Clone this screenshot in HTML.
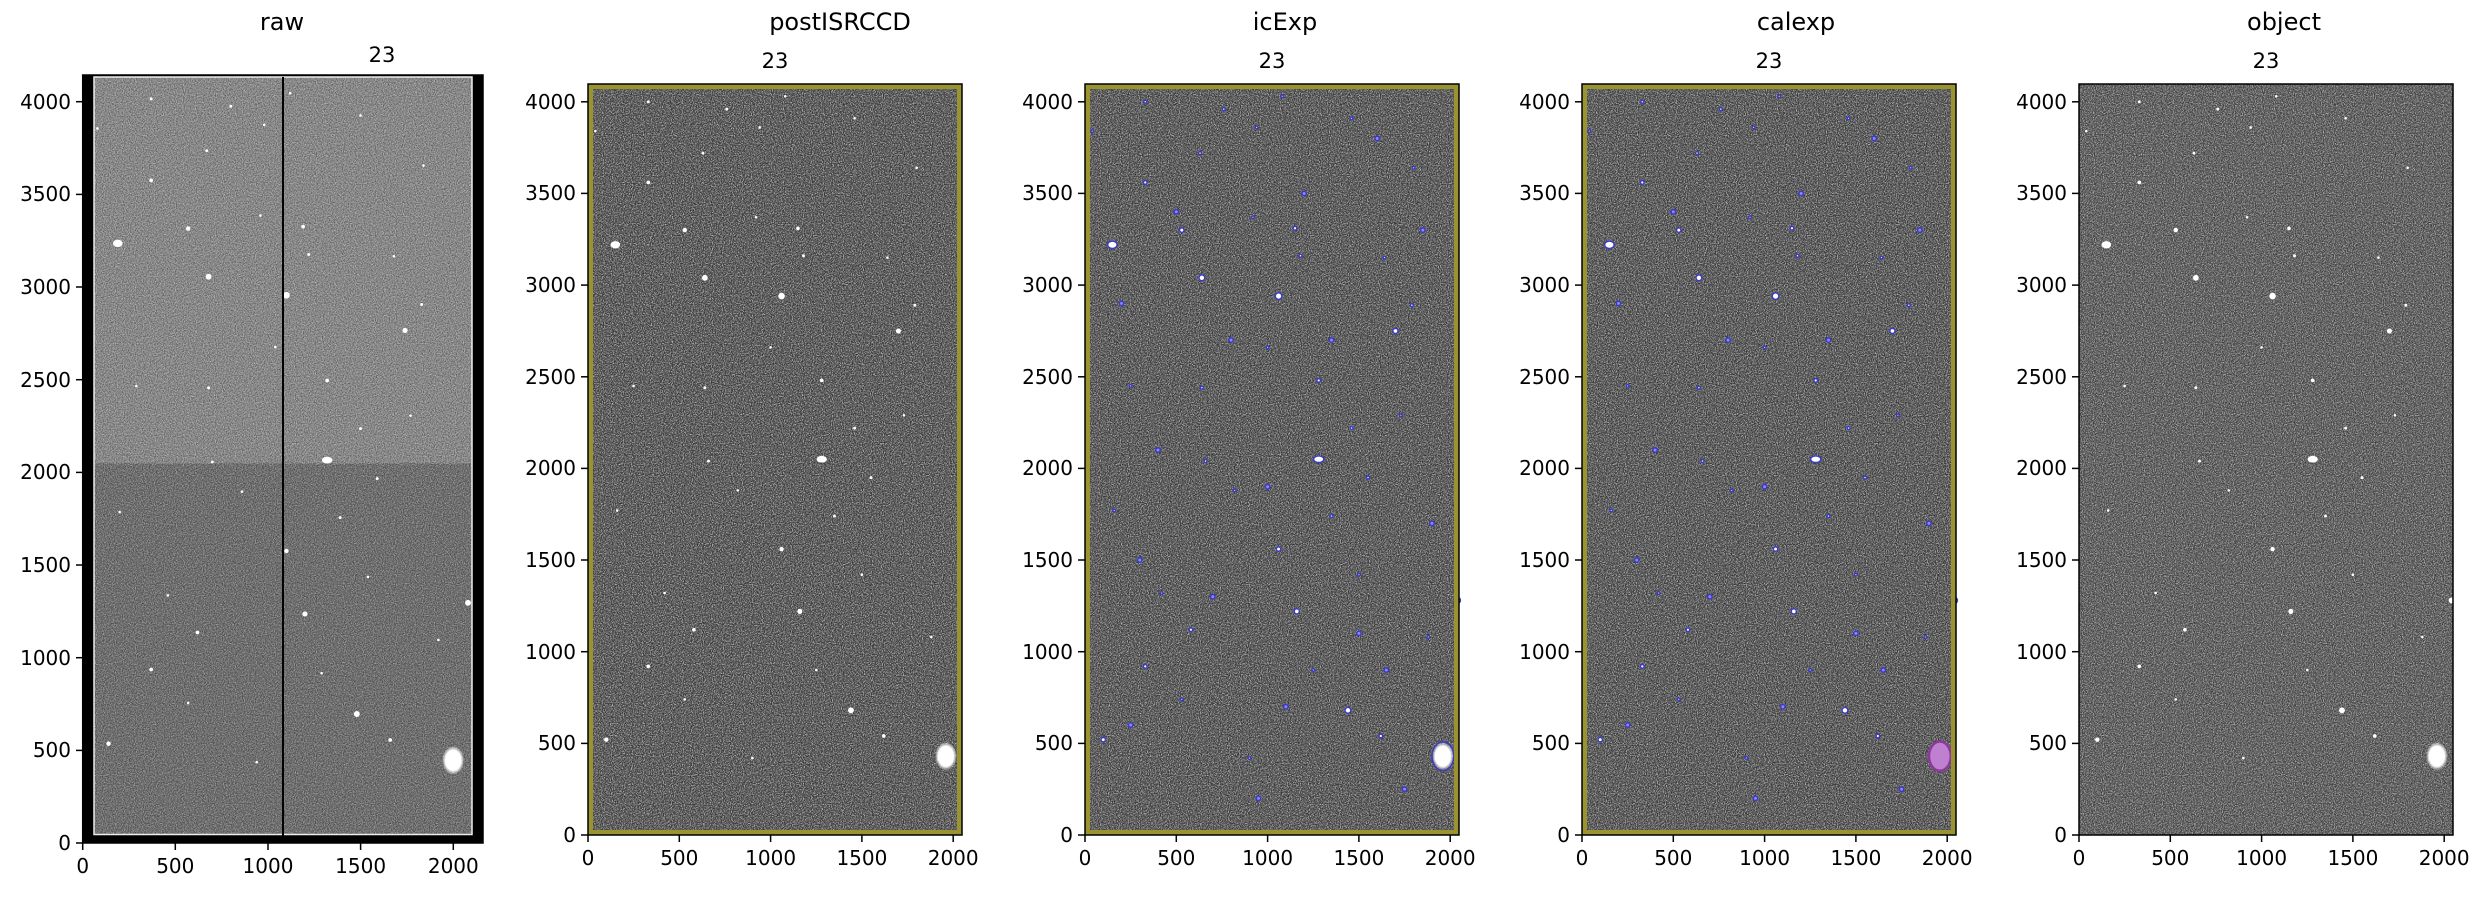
<!DOCTYPE html>
<html><head><meta charset="utf-8"><style>
html,body{margin:0;padding:0;background:#fff;}
svg text{font-family:"DejaVu Sans","Liberation Sans",sans-serif;fill:#000;}
</style></head><body>
<svg width="2485" height="894" viewBox="0 0 2485 894" xmlns="http://www.w3.org/2000/svg">
<defs>
<filter id="nz" x="0" y="0" width="1" height="1" color-interpolation-filters="sRGB">
<feTurbulence type="fractalNoise" baseFrequency="0.9" numOctaves="1" seed="4"/>
<feColorMatrix type="matrix" values="0 0 0 0 1 0 0 0 0 1 0 0 0 0 1 4 0 0 0 -1.7"/>
</filter>
<filter id="nzd" x="0" y="0" width="1" height="1" color-interpolation-filters="sRGB">
<feTurbulence type="fractalNoise" baseFrequency="0.85" numOctaves="1" seed="9"/>
<feColorMatrix type="matrix" values="0 0 0 0 0 0 0 0 0 0 0 0 0 0 0 4 0 0 0 -1.7"/>
</filter>
<radialGradient id="glow"><stop offset="0" stop-color="#fff"/><stop offset="0.7" stop-color="#fff"/><stop offset="1" stop-color="#fff" stop-opacity="0"/></radialGradient>
<g id="stars" fill="#fff">
<ellipse cx="150" cy="3220" rx="26" ry="20"/><ellipse cx="1280" cy="2050" rx="28" ry="18"/>
<ellipse cx="1960" cy="430" rx="60" ry="78" fill="url(#glow)"/><circle cx="1060" cy="2940" r="18"/>
<circle cx="640" cy="3040" r="16"/><circle cx="1700" cy="2750" r="14"/>
<circle cx="1440" cy="680" r="16"/><circle cx="530" cy="3300" r="12"/>
<circle cx="1160" cy="1220" r="14"/><circle cx="100" cy="520" r="12"/>
<circle cx="330" cy="3560" r="10"/><circle cx="1060" cy="1560" r="12"/>
<circle cx="1150" cy="3310" r="10"/><circle cx="1280" cy="2480" r="10"/>
<circle cx="1790" cy="2890" r="8"/><circle cx="1350" cy="1740" r="8"/>
<circle cx="1460" cy="2220" r="8"/><circle cx="1620" cy="540" r="10"/>
<circle cx="330" cy="920" r="10"/><circle cx="580" cy="1120" r="10"/>
<circle cx="640" cy="2440" r="8"/><circle cx="660" cy="2040" r="8"/>
<circle cx="1550" cy="1950" r="8"/><circle cx="1180" cy="3160" r="8"/>
<circle cx="920" cy="3370" r="7"/><circle cx="760" cy="3960" r="8"/>
<circle cx="330" cy="4000" r="8"/><circle cx="1080" cy="4030" r="7"/>
<circle cx="940" cy="3860" r="7"/><circle cx="1460" cy="3910" r="7"/>
<circle cx="1800" cy="3640" r="7"/><circle cx="630" cy="3720" r="8"/>
<circle cx="1640" cy="3150" r="7"/><circle cx="160" cy="1770" r="7"/>
<circle cx="900" cy="420" r="7"/><circle cx="530" cy="740" r="7"/>
<circle cx="1500" cy="1420" r="7"/><circle cx="1880" cy="1080" r="7"/>
<circle cx="1250" cy="900" r="7"/><circle cx="420" cy="1320" r="7"/>
<circle cx="820" cy="1880" r="7"/><circle cx="1000" cy="2660" r="7"/>
<circle cx="1730" cy="2290" r="7"/><circle cx="250" cy="2450" r="7"/>
<circle cx="2040" cy="1280" r="16"/><circle cx="40" cy="3840" r="7"/>
</g>
<g id="bstars" fill="#8888ff" stroke="#3a3ac8" stroke-width="8">
<use href="#stars"/>
<circle cx="300" cy="1500" r="12"/><circle cx="700" cy="1300" r="12"/><circle cx="1100" cy="700" r="12"/>
<circle cx="1500" cy="1100" r="12"/><circle cx="1900" cy="1700" r="12"/><circle cx="400" cy="2100" r="12"/>
<circle cx="800" cy="2700" r="12"/><circle cx="1200" cy="3500" r="12"/><circle cx="1600" cy="3800" r="12"/>
<circle cx="200" cy="2900" r="12"/><circle cx="950" cy="200" r="12"/><circle cx="1750" cy="250" r="12"/>
<circle cx="1350" cy="2700" r="12"/><circle cx="500" cy="3400" r="12"/><circle cx="1850" cy="3300" r="12"/>
<circle cx="250" cy="600" r="12"/><circle cx="1650" cy="900" r="12"/><circle cx="1000" cy="1900" r="12"/>
</g>
<g id="ax" font-size="20">
<g stroke="#000" stroke-width="1.5">
<line x1="0" y1="835" x2="0" y2="842"/><line x1="91.3" y1="835" x2="91.3" y2="842"/><line x1="182.6" y1="835" x2="182.6" y2="842"/><line x1="273.9" y1="835" x2="273.9" y2="842"/><line x1="365.2" y1="835" x2="365.2" y2="842"/>
<line x1="-7" y1="835" x2="0" y2="835"/><line x1="-7" y1="743.4" x2="0" y2="743.4"/><line x1="-7" y1="651.7" x2="0" y2="651.7"/><line x1="-7" y1="560" x2="0" y2="560"/><line x1="-7" y1="468.4" x2="0" y2="468.4"/><line x1="-7" y1="376.8" x2="0" y2="376.8"/><line x1="-7" y1="285.1" x2="0" y2="285.1"/><line x1="-7" y1="193.4" x2="0" y2="193.4"/><line x1="-7" y1="101.8" x2="0" y2="101.8"/>
</g>
<g text-anchor="middle"><text x="0" y="865">0</text><text x="91.3" y="865">500</text><text x="182.6" y="865">1000</text><text x="273.9" y="865">1500</text><text x="365.2" y="865">2000</text></g>
<g text-anchor="end"><text x="-12" y="842">0</text><text x="-12" y="750">500</text><text x="-12" y="659">1000</text><text x="-12" y="567">1500</text><text x="-12" y="475">2000</text><text x="-12" y="384">2500</text><text x="-12" y="292">3000</text><text x="-12" y="200">3500</text><text x="-12" y="109">4000</text></g>
</g>
</defs>

<!-- RAW -->
<g>
<rect x="82.7" y="75" width="400.3" height="768" fill="#000"/>
<rect x="94" y="77" width="378" height="386.5" fill="#8a8a8a"/>
<rect x="94" y="463.5" width="378" height="371" fill="#6b6b6b"/>
<rect x="94" y="77" width="378" height="757.5" filter="url(#nz)" opacity="0.35"/>
<rect x="94" y="77" width="378" height="757.5" filter="url(#nzd)" opacity="0.3"/>
<g transform="translate(90,840) scale(0.1853,-0.1853)"><use href="#stars"/></g>
<rect x="94" y="77" width="378" height="757.5" fill="none" stroke="#eee" stroke-width="1.5"/>
<line x1="283" y1="77" x2="283" y2="843" stroke="#000" stroke-width="2"/>
<rect x="82.7" y="75" width="400.3" height="768" fill="none" stroke="#000" stroke-width="1.5"/>
</g>
<text x="282" y="30" font-size="24" text-anchor="middle">raw</text>
<text x="382" y="62" font-size="21" text-anchor="middle">23</text>
<g font-size="20">
<g stroke="#000" stroke-width="1.5">
<line x1="82.7" y1="843" x2="82.7" y2="850"/><line x1="175.3" y1="843" x2="175.3" y2="850"/><line x1="268" y1="843" x2="268" y2="850"/><line x1="360.6" y1="843" x2="360.6" y2="850"/><line x1="453.3" y1="843" x2="453.3" y2="850"/>
<line x1="76" y1="843" x2="82.7" y2="843"/><line x1="76" y1="750.4" x2="82.7" y2="750.4"/><line x1="76" y1="657.7" x2="82.7" y2="657.7"/><line x1="76" y1="565" x2="82.7" y2="565"/><line x1="76" y1="472.4" x2="82.7" y2="472.4"/><line x1="76" y1="379.7" x2="82.7" y2="379.7"/><line x1="76" y1="287" x2="82.7" y2="287"/><line x1="76" y1="194.4" x2="82.7" y2="194.4"/><line x1="76" y1="101.7" x2="82.7" y2="101.7"/>
</g>
<g text-anchor="middle"><text x="82.7" y="873">0</text><text x="175.3" y="873">500</text><text x="268" y="873">1000</text><text x="360.6" y="873">1500</text><text x="453.3" y="873">2000</text></g>
<g text-anchor="end"><text x="71" y="850">0</text><text x="71" y="757">500</text><text x="71" y="665">1000</text><text x="71" y="572">1500</text><text x="71" y="479">2000</text><text x="71" y="387">2500</text><text x="71" y="294">3000</text><text x="71" y="201">3500</text><text x="71" y="109">4000</text></g>
</g>

<!-- postISRCCD -->
<g transform="translate(588,0)">
<rect x="0" y="84" width="374" height="751" fill="#555"/>
<rect x="0" y="84" width="374" height="751" filter="url(#nz)" opacity="0.55"/>
<rect x="0" y="84" width="374" height="751" filter="url(#nzd)" opacity="0.45"/>
<g transform="translate(0,835) scale(0.1826,-0.1833)"><use href="#stars"/></g>
<rect x="2.5" y="86.5" width="369" height="746" fill="none" stroke="#9a9430" stroke-width="5"/>
<rect x="0" y="84" width="374" height="751" fill="none" stroke="#000" stroke-width="1.5"/>
<use href="#ax"/>
</g>
<!-- icExp -->
<g transform="translate(1085,0)">
<rect x="0" y="84" width="374" height="751" fill="#555"/>
<rect x="0" y="84" width="374" height="751" filter="url(#nz)" opacity="0.55"/>
<rect x="0" y="84" width="374" height="751" filter="url(#nzd)" opacity="0.45"/>
<g transform="translate(0,835) scale(0.1826,-0.1833)"><use href="#bstars"/></g>
<rect x="2.5" y="86.5" width="369" height="746" fill="none" stroke="#9a9430" stroke-width="5"/>
<rect x="0" y="84" width="374" height="751" fill="none" stroke="#000" stroke-width="1.5"/>
<use href="#ax"/>
</g>
<!-- calexp -->
<g transform="translate(1582,0)">
<rect x="0" y="84" width="374" height="751" fill="#555"/>
<rect x="0" y="84" width="374" height="751" filter="url(#nz)" opacity="0.55"/>
<rect x="0" y="84" width="374" height="751" filter="url(#nzd)" opacity="0.45"/>
<g transform="translate(0,835) scale(0.1826,-0.1833)"><use href="#bstars"/>
<ellipse cx="1960" cy="430" rx="60" ry="80" fill="#c080d0" stroke="#8a3a9a" stroke-width="14"/></g>
<rect x="2.5" y="86.5" width="369" height="746" fill="none" stroke="#9a9430" stroke-width="5"/>
<rect x="0" y="84" width="374" height="751" fill="none" stroke="#000" stroke-width="1.5"/>
<use href="#ax"/>
</g>
<!-- object -->
<g transform="translate(2079,0)">
<rect x="0" y="84" width="374" height="751" fill="#5c5c5c"/>
<rect x="0" y="84" width="374" height="751" filter="url(#nz)" opacity="0.5"/>
<rect x="0" y="84" width="374" height="751" filter="url(#nzd)" opacity="0.4"/>
<g transform="translate(0,835) scale(0.1826,-0.1833)"><use href="#stars"/></g>
<rect x="0" y="84" width="374" height="751" fill="none" stroke="#000" stroke-width="1.5"/>
<use href="#ax"/>
</g>

<text x="840" y="30" font-size="24" text-anchor="middle">postISRCCD</text>
<text x="775" y="68" font-size="21" text-anchor="middle">23</text>
<text x="1285" y="30" font-size="24" text-anchor="middle">icExp</text>
<text x="1272" y="68" font-size="21" text-anchor="middle">23</text>
<text x="1796" y="30" font-size="24" text-anchor="middle">calexp</text>
<text x="1769" y="68" font-size="21" text-anchor="middle">23</text>
<text x="2284" y="30" font-size="24" text-anchor="middle">object</text>
<text x="2266" y="68" font-size="21" text-anchor="middle">23</text>
</svg>
</body></html>
